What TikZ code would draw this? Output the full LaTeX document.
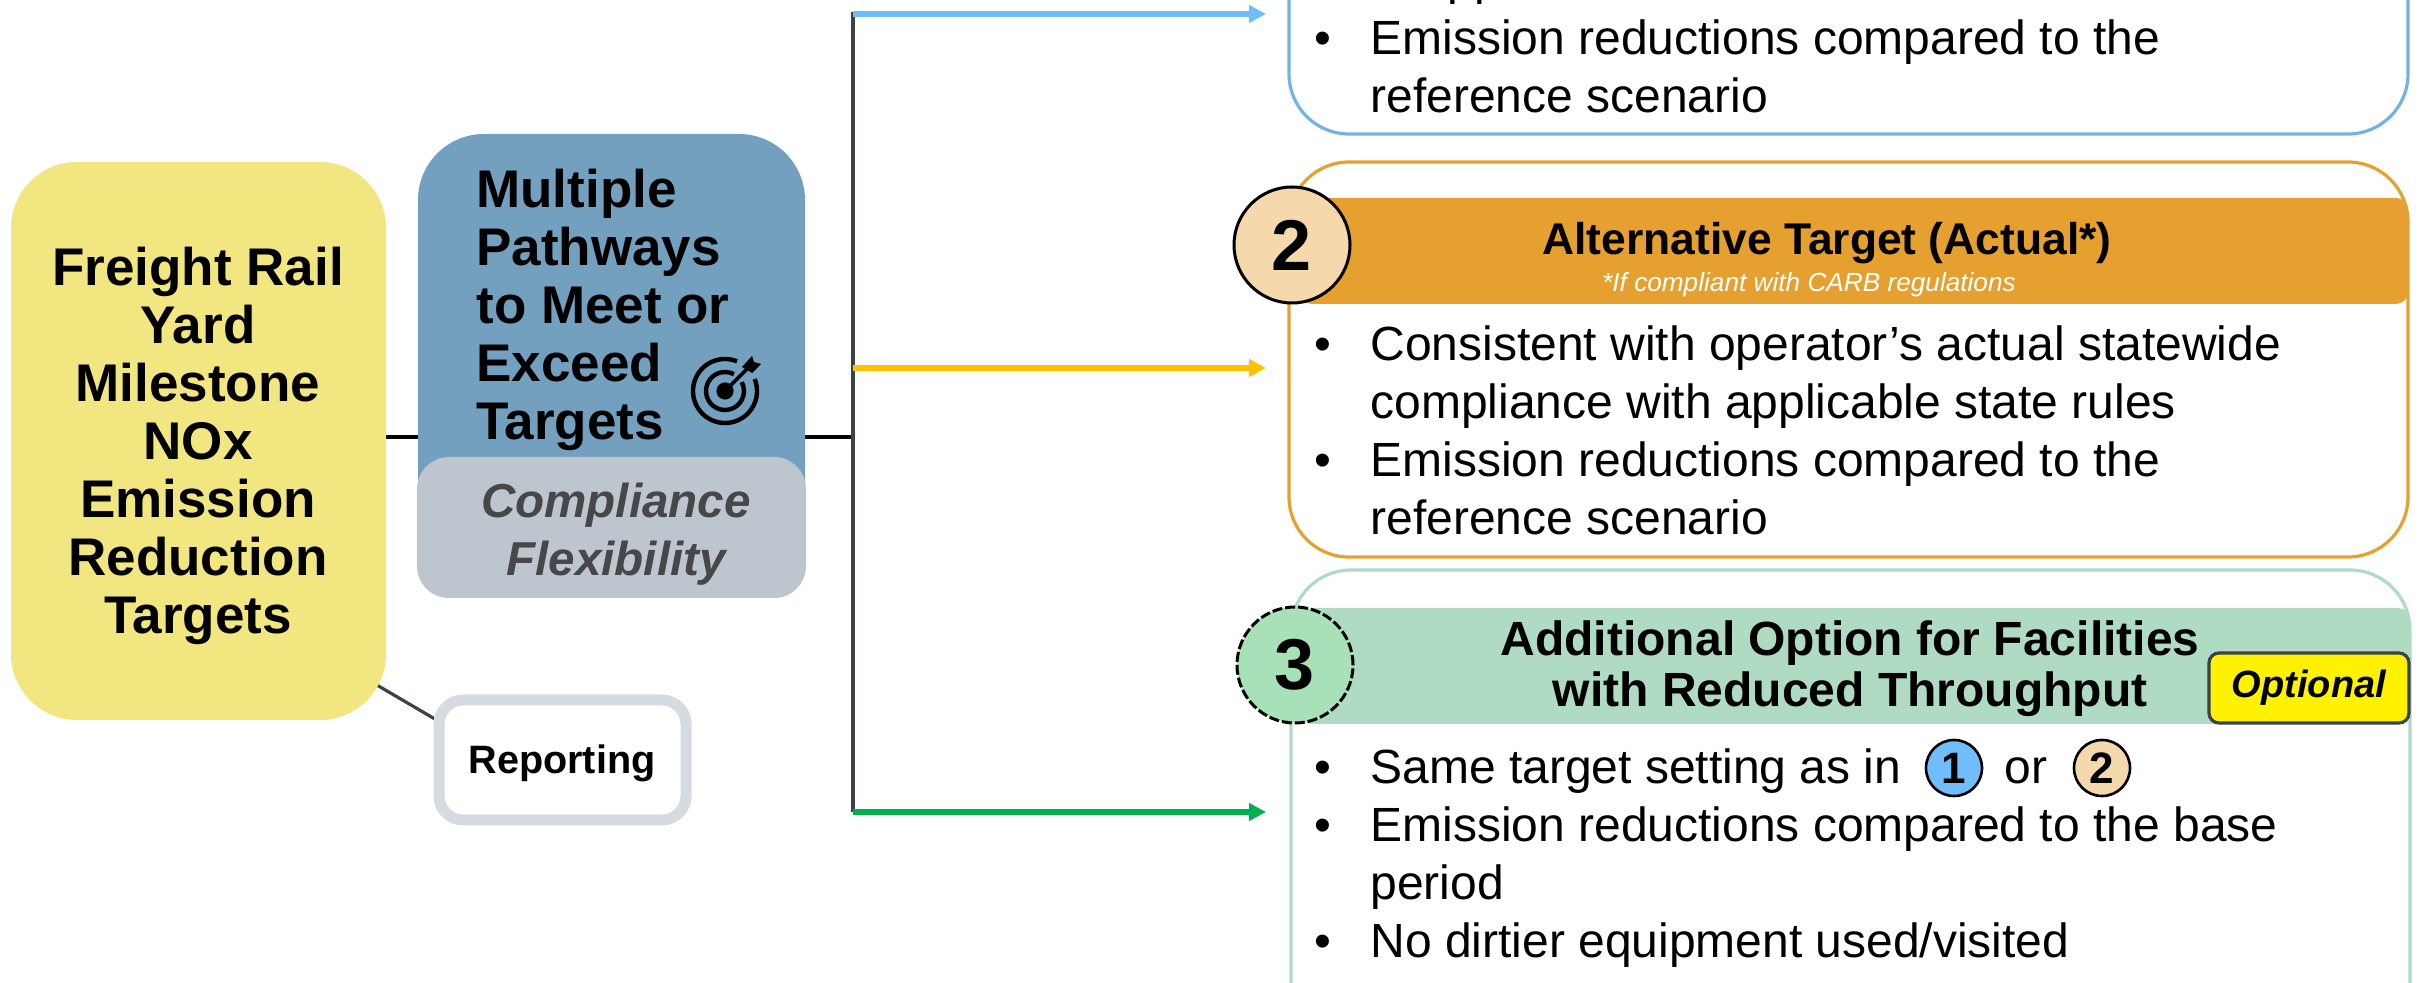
\documentclass[tikz,border=0pt]{standalone}
\usepackage{fontspec}
\setmainfont{Liberation Sans}
\usetikzlibrary{arrows.meta,calc}
\definecolor{railyellow}{HTML}{F2E680}
\definecolor{pathblue}{HTML}{74A0BF}
\definecolor{flexgrey}{HTML}{BDC5CF}
\definecolor{reportgrey}{HTML}{D6DBE2}
\definecolor{linedark}{HTML}{3B4248}
\definecolor{onefill}{HTML}{6FBDFB}
\definecolor{oneline}{HTML}{74B2E2}
\definecolor{twofill}{HTML}{F5D8AC}
\definecolor{twoline}{HTML}{E5A02F}
\definecolor{twoarrow}{HTML}{FFC000}
\definecolor{threefill}{HTML}{A8E0B8}
\definecolor{threeline}{HTML}{AFDBC3}
\definecolor{threearrow}{HTML}{00B050}
\newcommand{\bodyfont}{\fontsize{24}{29}\selectfont}
\newcommand{\bul}{\textbullet}
\tikzset{
  px/.style={x=.5pt,y=-.5pt},
  headtext/.style={font=\fontsize{26.5}{29}\selectfont\bfseries,align=center,inner sep=0pt},
  bandtext/.style={font=\fontsize{24}{25.6}\selectfont\bfseries,align=center,inner sep=0pt},
  bodytext/.style={font=\bodyfont,inner sep=0pt,anchor=west},
  optionbox/.style={draw,line width=1.6pt,rounded corners=30pt},
  numcircle/.style={circle,draw=black,line width=1.5pt,minimum size=58pt,inner sep=0pt,font=\fontsize{36}{36}\selectfont\bfseries},
  smallcircle/.style={circle,draw=black,line width=1.3pt,minimum size=28pt,inner sep=0pt,font=\fontsize{22}{22}\selectfont\bfseries},
  branch/.style={line width=3pt,-{Triangle[length=8.5pt,width=8.5pt]}},
  icon/.style={black,line width=2.2pt},
}
\begin{document}
\begin{tikzpicture}[px]
  \useasboundingbox (0, 0) rectangle (2422, 983);
  \clip (0, 0) rectangle (2422, 983);
  % trunk lines
  \coordinate (yardR) at (386, 437);
  \coordinate (trunkM) at (853, 437);
  \coordinate (trunkT) at (853, 12);
  \coordinate (trunkB) at (853, 812);
  \draw[line width=1.6pt,black] (yardR) -- (trunkM);
  \draw[line width=1.6pt,linedark] (trunkT) -- (trunkB);
  \draw[line width=1.6pt,linedark] (370, 681) coordinate (yardC) -- (440, 722) coordinate (repC);
  % left column
  \fill[railyellow,rounded corners=33pt] (11, 162) rectangle (386, 720);
  \node[headtext] (yard) at (198, 446) {Freight Rail\\Yard\\Milestone\\NOx\\Emission\\Reduction\\Targets};
  \fill[pathblue,rounded corners=33pt] (418, 134) rectangle (805, 560);
  \fill[flexgrey,rounded corners=16pt] (417, 457) rectangle (806, 598);
  \node[headtext,align=left,anchor=north west] (paths) at (476, 169) {Multiple\\Pathways\\to Meet or\\Exceed\\Targets};
  \node[headtext,font=\fontsize{23.8}{29}\selectfont\bfseries\itshape,text=black!72] (flex) at (616, 534) {Compliance\\Flexibility};
  \draw[reportgrey,line width=5.5pt,fill=white,rounded corners=12pt] (439, 700) rectangle (686, 820);
  \node[font=\fontsize{19.8}{22}\selectfont\bfseries,inner sep=0pt] (report) at (562, 763) {Reporting};
  % target icon
  \coordinate (tgt) at (725, 391);
  \draw[icon] (tgt) ++(68:16pt) arc[start angle=68,end angle=382,radius=16pt];
  \draw[icon] (tgt) ++(62:9.5pt) arc[start angle=62,end angle=388,radius=9.5pt];
  \fill[black] (tgt) circle (4.3pt);
  \draw[black,line width=1.8pt] (tgt) -- ++(27, -27) coordinate (tgtA);
  \fill[black] (742, 367) -- (752, 356) -- (754, 362) -- (761, 364) -- (752, 373) -- cycle;
  % branches
  \draw[branch,onefill] (trunkT |- 0, 14) -- (1266, 14);
  \draw[branch,twoarrow] (trunkT |- 0, 368) -- (1266, 368);
  \draw[branch,threearrow] (trunkB) -- (1266, 812);
  % option one
  \draw[optionbox,oneline,fill=white] (1289, -80) rectangle (2408, 134);
  \node[font=\bodyfont,inner sep=0pt,anchor=base west] (clipped1) at (1447, -5) {pp};
  \node[bodytext] (body1) at (1314, 72) {\begin{tabular}{@{}p{28pt}@{}l@{}}\bul & Emission reductions compared to the\\ & reference scenario\end{tabular}};
  % option two
  \draw[optionbox,twoline,fill=white] (1289, 162) rectangle (2408, 557);
  \fill[twoline,rounded corners=6pt] (1300, 198) rectangle (2408, 304);
  \node[numcircle,fill=twofill] (num2) at (1292, 245) {2};
  \node[font=\fontsize{22.2}{25}\selectfont\bfseries,inner sep=0pt] (head2) at (1827, 243) {Alternative Target (Actual*)};
  \node[font=\fontsize{13.1}{16}\selectfont\itshape,text=white,inner sep=0pt] (sub2) at (1809, 285) {*If compliant with CARB regulations};
  \node[bodytext] (body2) at (1314, 436) {\begin{tabular}{@{}p{28pt}@{}l@{}}\bul & Consistent with operator’s actual statewide\\ & compliance with applicable state rules\\ \bul & Emission reductions compared to the\\ & reference scenario\end{tabular}};
  % option three
  \draw[optionbox,threeline,fill=white] (1291, 570) rectangle (2410, 1040);
  \fill[threeline,rounded corners=6pt] (1300, 608) rectangle (2410, 724);
  \node[numcircle,fill=threefill,dash pattern=on 5pt off 1.5pt] (num3) at (1295, 665) {3};
  \node[bandtext] (head3) at (1850, 669) {Additional Option for Facilities\\with Reduced Throughput};
  \node[draw=linedark,fill=yellow,line width=1.6pt,rounded corners=5pt,minimum width=100pt,minimum height=35pt,inner sep=0pt,font=\fontsize{19}{22}\selectfont\bfseries\itshape] (opt) at (2309, 688) {Optional};
  \node[bodytext] (body3) at (1314, 859) {\begin{tabular}{@{}p{28pt}@{}l@{}}\bul & Same target setting as in \hspace{45pt}or\\ \bul & Emission reductions compared to the base\\ & period\\ \bul & No dirtier equipment used/visited\end{tabular}};
  \node[smallcircle,fill=onefill] (ref1) at (1954, 768) {1};
  \node[smallcircle,fill=twofill] (ref2) at (2102, 768) {2};
\end{tikzpicture}
\end{document}
